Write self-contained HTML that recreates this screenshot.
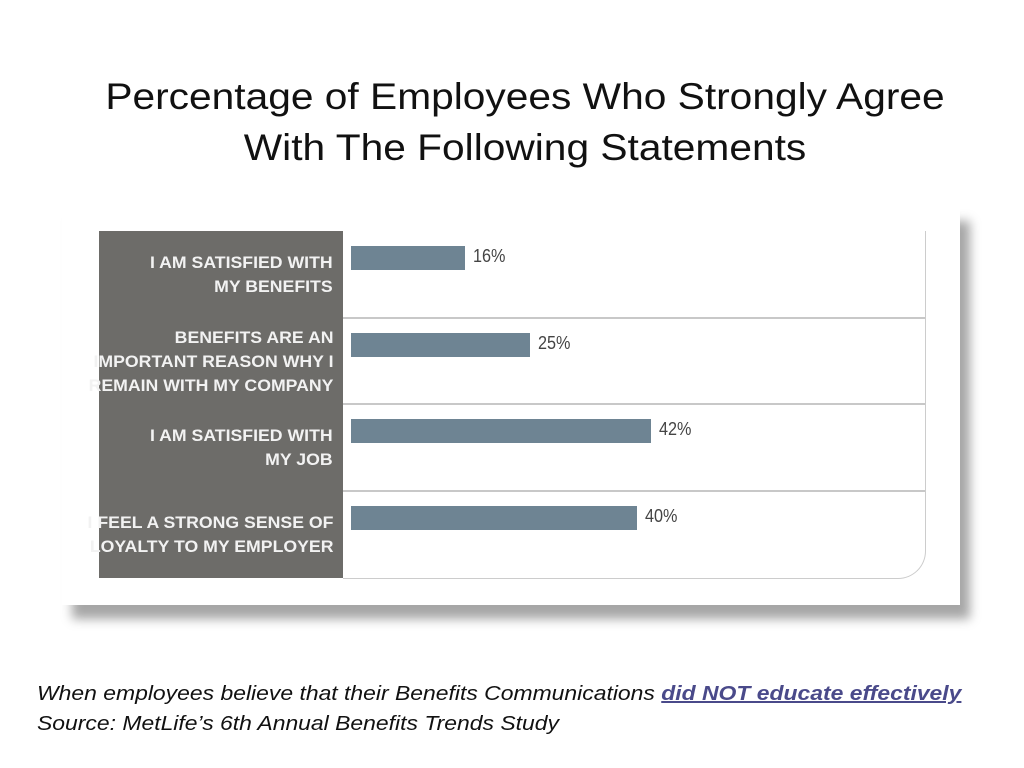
<!DOCTYPE html>
<html><head><meta charset="utf-8"><style>
body{margin:0;width:1024px;height:768px;background:#fff;position:relative;overflow:hidden;font-family:"Liberation Sans",sans-serif}
.t{position:absolute;left:0;width:1050px;text-align:center;font-size:37px;color:#111;line-height:51px;top:71px;transform:scaleX(1.1);transform-origin:525px 0}
.frame{position:absolute;left:62px;top:207px;width:898px;height:398px;background:#fff;box-shadow:10px 14px 10px rgba(0,0,0,0.35);}
.panel{position:absolute;left:99px;top:231px;width:244px;height:347px;background:#6d6c69}
.white{position:absolute;left:343px;top:231px;width:582px;height:347px;background:#fff;border-right:1px solid #ccc;border-bottom:1px solid #ccc;border-bottom-right-radius:28px}
.lbl{position:absolute;right:691px;text-align:right;color:#f2f2f2;font-family:"Liberation Sans Narrow","Liberation Sans",sans-serif;font-weight:bold;font-size:17px;line-height:24px;transform:scaleX(1.04) translateY(-50%);transform-origin:right center;white-space:nowrap}
.div{position:absolute;left:343px;width:582px;height:2px;background:#c8c8c8}
.bar{position:absolute;left:351px;height:24px;background:#6e8493}
.val{position:absolute;font-family:"Liberation Sans Narrow","Liberation Sans",sans-serif;font-size:18px;color:#444;transform:scaleX(0.9);transform-origin:left center}
.f{position:absolute;left:37px;font-style:italic;font-size:20px;color:#111;transform:scaleX(1.146);transform-origin:0 0;white-space:nowrap}
.f a{color:#4a4a8a;font-weight:bold;text-decoration:underline}
</style></head><body>
<div class="t">Percentage of Employees Who Strongly Agree<br>With The Following Statements</div>
<div class="frame"></div>
<div class="panel"></div>
<div class="white"></div>
<div id="chart"></div>
<div class="f" style="top:683px">When employees believe that their Benefits Communications <a>did NOT educate effectively</a></div>
<div class="f" style="top:713px">Source: MetLife’s 6th Annual Benefits Trends Study</div>
<script>
const categories=[["I AM SATISFIED WITH","MY BENEFITS"],["BENEFITS ARE AN","IMPORTANT REASON WHY I","REMAIN WITH MY COMPANY"],["I AM SATISFIED WITH","MY JOB"],["I FEEL A STRONG SENSE OF","LOYALTY TO MY EMPLOYER"]];
const values=[16,25,42,40];
const valueLabels=["16%","25%","42%","40%"];
const c=document.getElementById('chart');
const x=v=>v*7.15;
const bandH=86.5;
const rowTop=i=>231+i*bandH;
values.forEach((v,i)=>{
  const top=rowTop(i);
  const b=document.createElement('div');b.className='bar';
  
  
  b.style.top=(top+15)+'px';b.style.width=x(v)+'px';c.appendChild(b);
  const t=document.createElement('div');t.className='val';
  
  
  t.style.top=(top+15)+'px';t.style.left=(351+x(v)+8)+'px';t.textContent=valueLabels[i];c.appendChild(t);
  const l=document.createElement('div');l.className='lbl';
  
  
  l.style.top=(top+bandH/2+1)+'px';l.innerHTML=categories[i].join('<br>');c.appendChild(l);
  if(i>0){const d=document.createElement('div');d.className='div';
  
  
  d.style.top=(top-1)+'px';c.appendChild(d);}
});
</script>
</body></html>
